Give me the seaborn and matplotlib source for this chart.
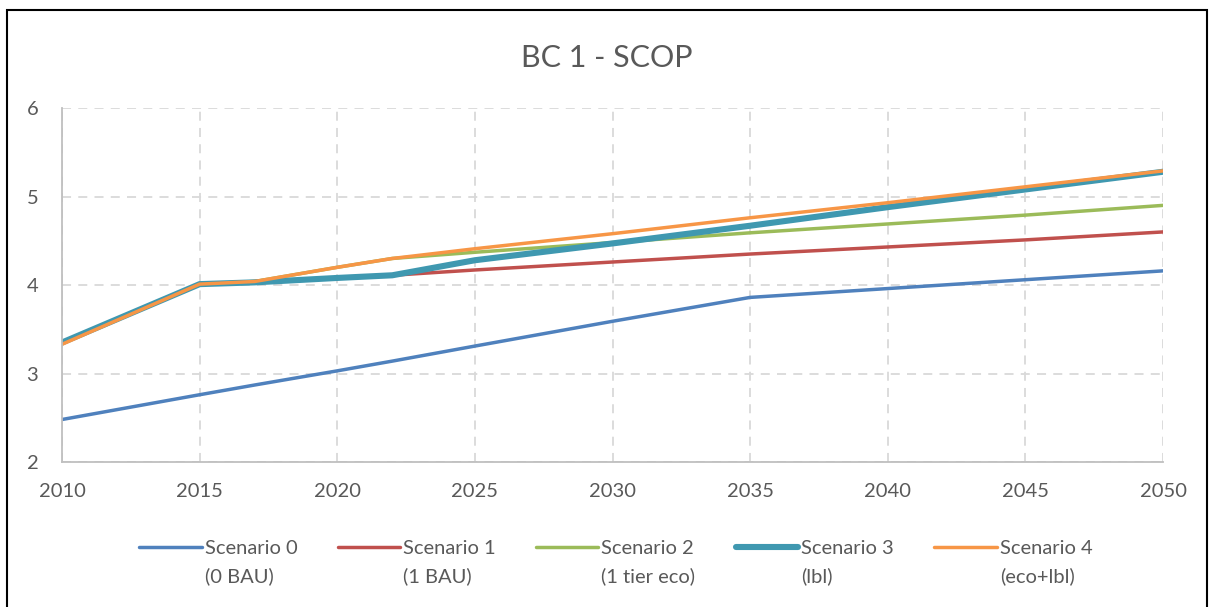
import matplotlib
matplotlib.use("Agg")
import matplotlib.pyplot as plt
import seaborn as sns
from matplotlib.legend_handler import HandlerLine2D
from matplotlib.patches import Rectangle

# data
years = [2010, 2015, 2017, 2020, 2022, 2025, 2030, 2035, 2040, 2045, 2050]
scen0 = [2.48, 2.76, 2.87, 3.03, 3.14, 3.31, 3.59, 3.86, 3.96, 4.06, 4.16]
scen1 = [3.34, 4.01, 4.03, 4.08, 4.11, 4.17, 4.26, 4.35, 4.43, 4.51, 4.60]
scen2 = [3.34, 4.01, 4.04, 4.20, 4.30, 4.37, 4.48, 4.59, 4.69, 4.79, 4.90]
scen3 = [3.35, 4.01, 4.03, 4.08, 4.11, 4.28, 4.47, 4.67, 4.88, 5.08, 5.28]
scen4 = [3.33, 4.01, 4.04, 4.20, 4.30, 4.41, 4.58, 4.76, 4.93, 5.11, 5.29]

labels = ["Scenario 0\n(0 BAU)", "Scenario 1\n(1 BAU)", "Scenario 2\n(1 tier eco)",
          "Scenario 3\n(lbl)", "Scenario 4\n(eco+lbl)"]
colors = ["#4F81BD", "#C0504D", "#9BBB59", "#3F98B0", "#F79646"]
widths = [2.5, 2.5, 2.5, 4.4, 2.5]

x_ticks = [2010, 2015, 2020, 2025, 2030, 2035, 2040, 2045, 2050]
y_ticks = [2, 3, 4, 5, 6]

sns.set_theme(style="white")
plt.rcParams["font.family"] = ["Lato", "DejaVu Sans"]

fig = plt.figure(figsize=(12.13, 6.07), dpi=100)
ax = fig.add_axes([0.0511, 0.2389, 0.9077, 0.5831])

for vals, lab, col, lw in zip([scen0, scen1, scen2, scen3, scen4], labels, colors, widths):
    sns.lineplot(x=years, y=vals, ax=ax, color=col, linewidth=lw, label=lab,
                 solid_capstyle="round")

ax.set_xlim(2010, 2050)
ax.set_ylim(2, 6)
ax.set_xticks(x_ticks)
ax.set_yticks(y_ticks)
ax.grid(True, color="#D9D9D9", linestyle=(0, (5, 4)), linewidth=1.3)
ax.set_axisbelow(True)
for s in ["top", "right"]:
    ax.spines[s].set_visible(False)
for s in ["left", "bottom"]:
    ax.spines[s].set_color("#BFBFBF")
    ax.spines[s].set_linewidth(1.3)
ax.tick_params(axis="both", length=0, labelsize=14.5, labelcolor="#595959")
ax.tick_params(axis="y", pad=17)
ax.tick_params(axis="x", pad=15)

fig.text(0.5, 0.905, "BC 1 - SCOP", ha="center", va="center",
         fontsize=22, color="#595959")


class TopLine(HandlerLine2D):
    def create_artists(self, legend, orig_handle, xdescent, ydescent,
                       width, height, fontsize, trans):
        arts = super().create_artists(legend, orig_handle, xdescent, ydescent,
                                      width, height, fontsize, trans)
        for a in arts:
            n = len(a.get_ydata())
            a.set_ydata([height * 0.95 - ydescent] * n)
        return arts


handles, labs = ax.get_legend_handles_labels()
leg = ax.legend(handles, labs, loc="upper center", bbox_to_anchor=(0.503, -0.168),
                ncol=5, frameon=False, fontsize=14.5, handlelength=3.1,
                handletextpad=0.15, columnspacing=2.0, handleheight=2.3,
                handler_map={h: TopLine() for h in handles})
for t in leg.get_texts():
    t.set_color("#595959")
    t.set_linespacing(1.72)
    t.set_multialignment("left")

fig.patches.append(Rectangle((7 / 1213, -0.02), 1200 / 1213, 1 - 10 / 607 + 0.02,
                             transform=fig.transFigure, fill=False,
                             edgecolor="black", linewidth=1.5))

fig.savefig("out.png", dpi=100)
